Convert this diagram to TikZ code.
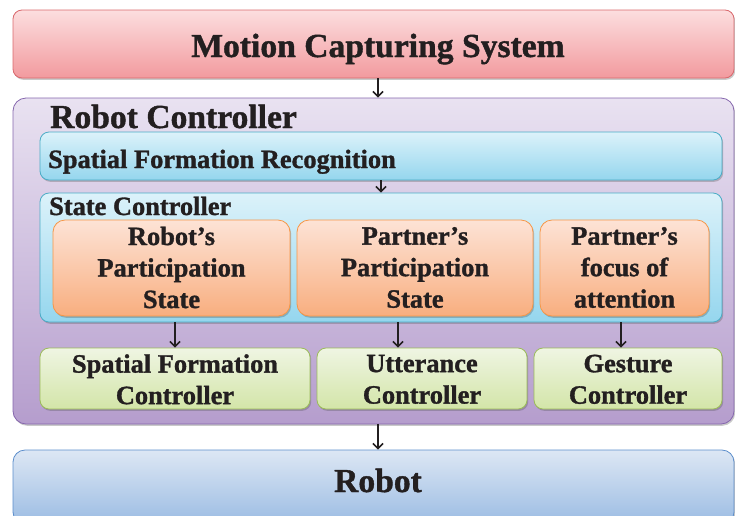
\documentclass[tikz,border=0pt]{standalone}
\usepackage{fontspec}
\setmainfont{Liberation Serif}
\newfontfamily\tnr{Liberation Serif Bold}[FakeBold=1.2]
\usetikzlibrary{arrows.meta,shadows}
\definecolor{txt}{HTML}{231F20}
\definecolor{redT}{HTML}{FCDEDF}\definecolor{redB}{HTML}{F29A9E}\definecolor{redD}{HTML}{D9686D}
\definecolor{purT}{HTML}{E9E2F1}\definecolor{purB}{HTML}{B59DCD}\definecolor{purD}{HTML}{8566AD}
\definecolor{bluT}{HTML}{DCF2FA}\definecolor{bluB}{HTML}{95D6EE}\definecolor{bluD}{HTML}{4BACC6}
\definecolor{oraT}{HTML}{FDE3D6}\definecolor{oraB}{HTML}{F8AE7F}\definecolor{oraD}{HTML}{F79646}
\definecolor{greT}{HTML}{EFF5E3}\definecolor{greB}{HTML}{D3E5A8}\definecolor{greD}{HTML}{9BBB59}
\definecolor{robT}{HTML}{DDE7F4}\definecolor{robB}{HTML}{9BBCE3}\definecolor{robD}{HTML}{5B8DCB}
\newcommand\bigtxt{\tnr\fontsize{33.6}{40}\selectfont}
\newcommand\midtxt{\tnr\fontsize{26.4}{31.5}\selectfont}
\newcommand\dph{\vphantom{p}}
\tikzset{
  box/.style={draw, line width=0.8pt, rounded corners=9pt, inner sep=0pt,
    drop shadow={shadow xshift=1.2pt, shadow yshift=-1.8pt, opacity=0.3, fill=black!70}},
  redbox/.style={box, draw=redD, top color=redT, bottom color=redB},
  purbox/.style={box, draw=purD, top color=purT, bottom color=purB, rounded corners=13pt},
  blubox/.style={box, draw=bluD, top color=bluT, bottom color=bluB},
  orabox/.style={box, draw=oraD, top color=oraT, bottom color=oraB, rounded corners=12pt},
  grebox/.style={box, draw=greD, top color=greT, bottom color=greB},
  robbox/.style={box, draw=robD, top color=robT, bottom color=robB, rounded corners=12pt},
  bigl/.style={font=\bigtxt, text=txt, inner sep=0pt},
  midl/.style={font=\midtxt, text=txt, inner sep=0pt, align=center},
  arr/.style={draw=txt, line width=1.6pt, -{Straight Barb[length=5pt,width=10pt,line width=1.6pt]}}
}
\begin{document}
\begin{tikzpicture}[x=1pt,y=-1pt]
\useasboundingbox (0,0) rectangle (735,515);
% boxes
\node[redbox, minimum width=721pt, minimum height=68pt] (mcs) at (373.5,44) {};
\node[bigl, anchor=base] (mcst) at (378,57) {Motion Capturing System};

\node[purbox, minimum width=721pt, minimum height=326pt] (rc) at (373.5,261) {};
\node[bigl, anchor=base west] (rct) at (50,128) {Robot Controller};

\node[blubox, minimum width=682pt, minimum height=48pt] (sfr) at (381,156) {};
\node[midl, anchor=base west] (sfrt) at (48,168) {Spatial Formation Recognition};

\node[blubox, minimum width=682pt, minimum height=129pt] (sc) at (381,257.5) {};
\node[midl, anchor=base west] (sct) at (49,215) {State Controller};

\node[orabox, minimum width=237pt, minimum height=96pt] (o1) at (171.5,268) {};
\node[midl] (o1t) at (171.5,267.5) {Robot’s\\Participation\\State};
\node[orabox, minimum width=236pt, minimum height=96pt] (o2) at (415,268) {};
\node[midl] (o2t) at (415,267.5) {Partner’s\\Participation\\State};
\node[orabox, minimum width=169pt, minimum height=96pt] (o3) at (624.5,268) {};
\node[midl] (o3t) at (624.5,267.5) {Partner’s\\focus of\\attention};

\node[grebox, minimum width=270pt, minimum height=61pt] (g1) at (175,378.5) {};
\node[midl] (g1t) at (175,382) {Spatial Formation\\Controller\dph};
\node[grebox, minimum width=210pt, minimum height=61pt] (g2) at (422,378.5) {};
\node[midl] (g2t) at (422,382) {Utterance\\Controller\dph};
\node[grebox, minimum width=188pt, minimum height=61pt] (g3) at (628,378.5) {};
\node[midl] (g3t) at (628,382) {Gesture\\Controller\dph};

\node[robbox, minimum width=721pt, minimum height=74pt] (rob) at (373.5,487) {};
\node[bigl, anchor=base] (robt) at (378,492) {Robot};

% arrow x positions
\coordinate (x1) at (378,0);
\coordinate (x2) at (381,0);
\coordinate (x3) at (175,0);
\coordinate (x4) at (398,0);
\coordinate (x5) at (621,0);

\draw[arr] (mcs.south -| x1) -- (rc.north -| x1);
\draw[arr] (sfr.south -| x2) -- (sc.north -| x2);
\draw[arr] (sc.south -| x3) -- (g1.north -| x3);
\draw[arr] (sc.south -| x4) -- (g2.north -| x4);
\draw[arr] (sc.south -| x5) -- (g3.north -| x5);
\draw[arr] (rc.south -| x1) -- (rob.north -| x1);
\end{tikzpicture}
\end{document}
